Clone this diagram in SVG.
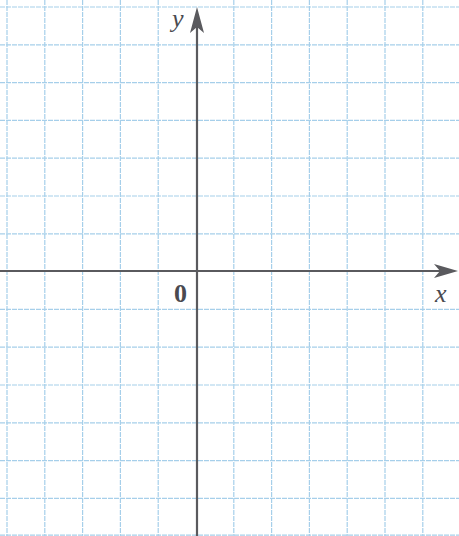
<svg xmlns="http://www.w3.org/2000/svg" width="459" height="536" viewBox="0 0 459 536">
<style>
.grid line{stroke:#a6cfea;stroke-width:1.2;stroke-dasharray:5 1}
.axis{stroke:#5a5a5e;stroke-width:2.2;fill:none}
.head{fill:#5a5a5e}
.lbl{font-family:"Liberation Serif",serif;font-size:26px;fill:#4a4a50}
</style>
<rect width="459" height="536" fill="#ffffff"/>
<g id="grid" class="grid">
<line x1="7" y1="0" x2="7" y2="536"/>
<line x1="44.8" y1="0" x2="44.8" y2="536"/>
<line x1="82.6" y1="0" x2="82.6" y2="536"/>
<line x1="120.4" y1="0" x2="120.4" y2="536"/>
<line x1="158.2" y1="0" x2="158.2" y2="536"/>
<line x1="233.8" y1="0" x2="233.8" y2="536"/>
<line x1="271.6" y1="0" x2="271.6" y2="536"/>
<line x1="309.4" y1="0" x2="309.4" y2="536"/>
<line x1="347.2" y1="0" x2="347.2" y2="536"/>
<line x1="385" y1="0" x2="385" y2="536"/>
<line x1="422.8" y1="0" x2="422.8" y2="536"/>
<line x1="0" y1="7" x2="459" y2="7"/>
<line x1="0" y1="44.8" x2="459" y2="44.8"/>
<line x1="0" y1="82.6" x2="459" y2="82.6"/>
<line x1="0" y1="120.4" x2="459" y2="120.4"/>
<line x1="0" y1="158.2" x2="459" y2="158.2"/>
<line x1="0" y1="196" x2="459" y2="196"/>
<line x1="0" y1="233.8" x2="459" y2="233.8"/>
<line x1="0" y1="309.4" x2="459" y2="309.4"/>
<line x1="0" y1="347.2" x2="459" y2="347.2"/>
<line x1="0" y1="385" x2="459" y2="385"/>
<line x1="0" y1="422.8" x2="459" y2="422.8"/>
<line x1="0" y1="460.6" x2="459" y2="460.6"/>
<line x1="0" y1="498.4" x2="459" y2="498.4"/>
<line x1="0" y1="535.2" x2="459" y2="535.2"/>
</g>
<g id="connectors">
<g id="x-axis">
<line class="axis" x1="0" y1="271" x2="445" y2="271"/>
<path class="head" d="M458,271 L434,264 L440,271 L434,278 Z"/>
</g>
<g id="y-axis">
<line class="axis" x1="197" y1="536" x2="197" y2="20"/>
<path class="head" d="M197,7 L190,33 L197,27 L204,33 Z"/>
</g>
</g>
<g id="labels">
<text class="lbl" x="172" y="27" font-style="italic">y</text>
<text class="lbl" x="435" y="302" font-style="italic">x</text>
<text class="lbl" x="174" y="302" font-weight="bold">0</text>
</g>
</svg>
